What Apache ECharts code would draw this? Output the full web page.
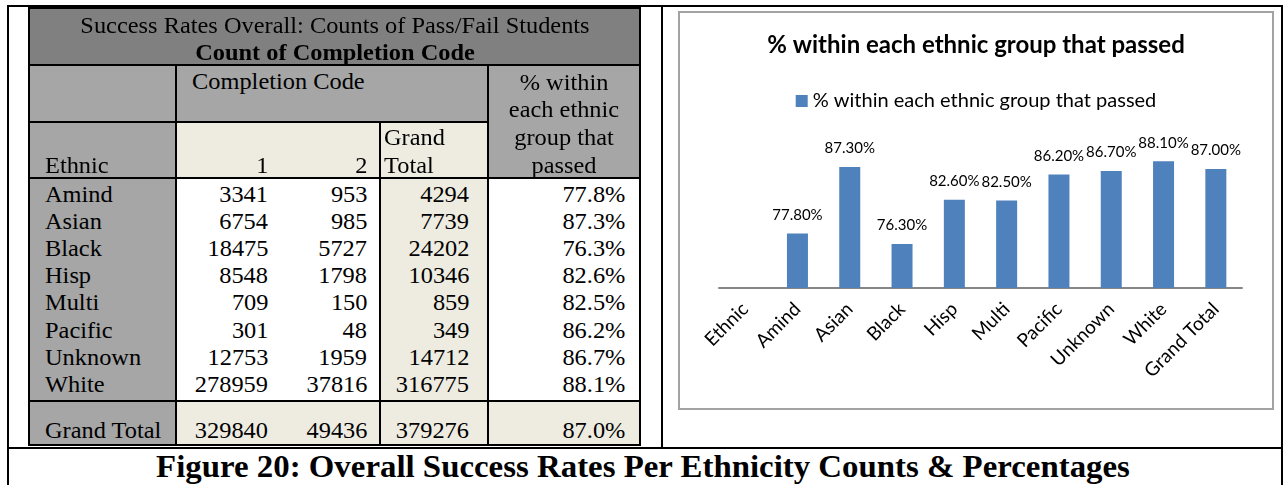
<!DOCTYPE html>
<html><head><meta charset="utf-8">
<script src="https://cdn.jsdelivr.net/npm/echarts@6/dist/echarts.min.js"></script>
<style>
body{margin:0;width:1285px;height:485px;background:#fff;position:relative;overflow:hidden;font-family:"Liberation Serif","Times New Roman",serif;}
.a{position:absolute;}
.t{position:absolute;font-size:23px;line-height:27px;color:#000;white-space:nowrap;}
#chart{position:absolute;left:680px;top:13px;width:592px;height:395px;}
#chartBox{position:absolute;left:678px;top:11px;width:592px;height:395px;border:2px solid #a3a3a3;}
</style></head><body>
<div id="chartBox"></div>
<div id="chart"></div>
<script>
// ---- data ----
const tableTitle = 'Success Rates Overall: Counts of Pass/Fail Students';
const tableSubtitle = 'Count of Completion Code';
const ethnicNames = ['Amind','Asian','Black','Hisp','Multi','Pacific','Unknown','White'];
const code1 = [3341, 6754, 18475, 8548, 709, 301, 12753, 278959];
const code2 = [953, 985, 5727, 1798, 150, 48, 1959, 37816];
const grandTotals = [4294, 7739, 24202, 10346, 859, 349, 14712, 316775];
const passPct = [77.8, 87.3, 76.3, 82.6, 82.5, 86.2, 86.7, 88.1];
const totalLabel = 'Grand Total';
const total1 = 329840, total2 = 49436, totalAll = 379276, totalPct = 87.0;
const chartTitle = '% within each ethnic group that passed';
const chartCategories = ['Ethnic'].concat(ethnicNames, [totalLabel]);
const chartValues = [null].concat(passPct, [totalPct]);
const caption = 'Figure 20: Overall Success Rates Per Ethnicity Counts & Percentages';

// ---- table drawing (HTML) ----
const body = document.body;
const STRETCH = 1.06;
function rect(x, y, w, h, c){ const d=document.createElement('div'); d.className='a'; d.style.cssText=`left:${x}px;top:${y}px;width:${w}px;height:${h}px;background:${c};`; body.insertBefore(d, body.firstChild); return d; }
function line(x, y, w, h){ const d=document.createElement('div'); d.className='a'; d.style.cssText=`left:${x}px;top:${y}px;width:${w}px;height:${h}px;background:#000;`; body.appendChild(d); }
function txt(s, x, cy, align, bold, size){ const d=document.createElement('div'); d.className='t'; d.textContent=s;
  const lh = size? size+6 : 27;
  if(size){d.style.fontSize=size+'px';d.style.lineHeight=lh+'px';}
  d.style.top=(cy-lh/2)+'px';
  if(align==='right'){ d.style.right=(1285-x)+'px'; d.style.textAlign='right'; d.style.transformOrigin='right center'; }
  else if(align==='center'){ d.style.left=(x-500)+'px'; d.style.width='1000px'; d.style.textAlign='center'; d.style.transformOrigin='center center'; }
  else { d.style.left=x+'px'; d.style.transformOrigin='left center'; }
  d.style.transform='scaleX('+STRETCH+')';
  if(bold) d.style.fontWeight='bold'; body.appendChild(d); }

const X0=29, X1=176, X2=380, X3=488, X4=640;
const Y0=8, Y1=65, Y2=122, Y3=178, Y4=401, Y5=445;
const GRAY_D='#808080', GRAY='#a6a6a6', BEIGE='#eeece1';
// backgrounds
rect(X0, Y0, X4-X0, Y1-Y0, GRAY_D);
rect(X0, Y1, X4-X0, Y2-Y1, GRAY);
rect(X0, Y2, X1-X0, Y5-Y2, GRAY);
rect(X3, Y2, X4-X3, Y3-Y2, GRAY);
rect(X1, Y2, X3-X1, Y3-Y2, BEIGE);
rect(X2, Y3, X3-X2, Y4-Y3, BEIGE);
rect(X1, Y4, X4-X1, Y5-Y4, BEIGE);

// table lines
line(X0-1, Y0-1, X4-X0+2, 2);
line(X0-1, Y1-1, X4-X0+2, 2);
line(X0-1, Y2-1, X3-X0+1, 2);
line(X0-1, Y3-1, X4-X0+2, 2);
line(X0-1, Y4-1, X4-X0+2, 2);
line(X0-1, Y5-1, X4-X0+2, 2);
line(X0-1, Y0-1, 2, Y5-Y0+2);
line(X4-1, Y0-1, 2, Y5-Y0+2);
line(X1-1, Y1-1, 2, Y5-Y1+1);
line(X2-1, Y2-1, 2, Y5-Y2+1);
line(X3-1, Y1-1, 2, Y5-Y1+1);

// outer frame
line(7, 5, 1276, 2);
line(7, 5, 2, 480);
line(1281, 5, 2, 480);
line(661, 5, 2, 443);
line(7, 447, 1276, 2);

// header texts
txt(tableTitle, (X0+X4)/2, 25, 'center');
txt(tableSubtitle, (X0+X4)/2, 52, 'center', true);
txt('Completion Code', 192, 81, 'left');
['% within','each ethnic','group that','passed'].forEach((s,i)=>txt(s, (X3+X4)/2, 82+27.7*i, 'center'));
txt('Ethnic', 45, 165, 'left');
txt('1', 268, 165, 'right');
txt('2', 367, 165, 'right');
txt('Grand', 384, 137, 'left');
txt('Total', 384, 165, 'left');

// data rows
ethnicNames.forEach((n,i)=>{
  const cy = 194 + 27.2*i;
  txt(n, 45, cy, 'left');
  txt(String(code1[i]), 268, cy, 'right');
  txt(String(code2[i]), 367, cy, 'right');
  txt(String(grandTotals[i]), 469, cy, 'right');
  txt(passPct[i].toFixed(1)+'%', 625, cy, 'right');
});
txt(totalLabel, 45, 430, 'left');
txt(String(total1), 268, 430, 'right');
txt(String(total2), 367, 430, 'right');
txt(String(totalAll), 469, 430, 'right');
txt(totalPct.toFixed(1)+'%', 625, 430, 'right');

// caption
txt(caption, 643, 466, 'center', true, 31);

// ---- chart ----
const chart = echarts.init(document.getElementById('chart'), null, {renderer:'canvas'});
const FONT = 'Lato';
chart.setOption({
  animation:false,
  title:{ text: chartTitle, left:'center', top:15,
    textStyle:{ fontFamily:FONT, fontWeight:'bold', fontSize:24, color:'#000' } },
  legend:{ top:73, left:'center', icon:'rect', itemWidth:12, itemHeight:12,
    textStyle:{ fontFamily:FONT, fontSize:20, color:'#000' }, data:[chartTitle] },
  grid:{ left:39, width:523, top:135, height:140 },
  xAxis:{ type:'category', data: chartCategories,
    axisLine:{ lineStyle:{ color:'#868686', width:2 } },
    axisTick:{ show:false },
    axisLabel:{ rotate:45, interval:0, fontFamily:FONT, fontSize:19, color:'#000', margin:18 } },
  yAxis:{ type:'value', min:70, max:90, show:false },
  series:[{ type:'bar', name: chartTitle, data: chartValues, barWidth:21,
    itemStyle:{ color:'#4f81bd' },
    label:{ show:true, position:'top', distance:11, fontFamily:FONT, fontSize:15, color:'#000',
      formatter: p => (p.value == null ? '' : Number(p.value).toFixed(2) + '%') } }]
});
</script>
</body></html>
